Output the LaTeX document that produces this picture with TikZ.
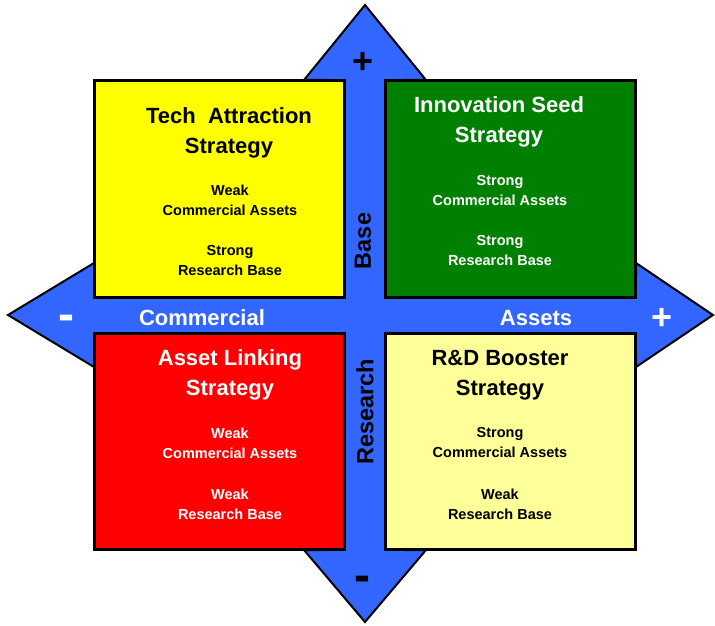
\documentclass[tikz,border=0pt]{standalone}
\usepackage{fontspec}
\setmainfont{Liberation Sans}
\usetikzlibrary{positioning}
\definecolor{AxisBlue}{RGB}{51,102,255}
\definecolor{DeepGreen}{RGB}{0,128,0}
\definecolor{BrightYellow}{RGB}{255,255,0}
\definecolor{BrightRed}{RGB}{255,0,0}
\definecolor{PaleYellow}{RGB}{255,255,153}

\begin{document}
\begin{tikzpicture}[x=1pt,y=1pt,every node/.style={font=\bfseries,inner sep=0pt,align=center}]
\tikzset{quad/.style={draw=black,line width=3pt,outer sep=0pt,minimum width=250pt,minimum height=216pt},
  heading/.style={font=\bfseries\fontsize{22}{30}\selectfont},
  facts/.style={font=\bfseries\fontsize{14.5}{20}\selectfont},
  axislbl/.style={font=\bfseries\fontsize{22}{26}\selectfont,text=white},
  sign/.style={font=\bfseries\fontsize{36}{40}\selectfont}}
\useasboundingbox (0,0) rectangle (715,625);
% four-way arrow behind the quadrants
\draw[fill=AxisBlue,line width=2pt,line join=miter]
  (365,620) -- (426,545) -- (405,545) -- (405,350) -- (636,350) -- (636,362)
  -- (713,310) -- (636,258) -- (636,270) -- (405,270) -- (405,75) -- (426,75)
  -- (365,3) -- (304,75) -- (325,75) -- (325,270) -- (94,270) -- (94,258)
  -- (8,310) -- (94,362) -- (94,350) -- (325,350) -- (325,545) -- (304,545) -- cycle;
\node[quad,fill=BrightYellow] (tech) at (219,436) {};
\node[quad,fill=DeepGreen,right=41pt of tech] (seed) {};
\node[quad,fill=BrightRed,below=36pt of tech] (link) {};
\node[quad,fill=PaleYellow,below=36pt of seed] (boost) {};
% quadrant texts
\node[heading] (techT) at (229,492) {Tech\ \ Attraction\\Strategy};
\node[facts] (techA) at (230,425) {Weak\\Commercial Assets};
\node[facts] (techB) at (230,364) {Strong\\Research Base};
\node[heading,text=white] (seedT) at (499,503) {Innovation Seed\\Strategy};
\node[facts,text=white] (seedA) at (500,434.5) {Strong\\Commercial Assets};
\node[facts,text=white] (seedB) at (500,374) {Strong\\Research Base};
\node[heading,text=white] (linkT) at (230,250) {Asset Linking\\Strategy};
\node[facts,text=white] (linkA) at (230,182) {Weak\\Commercial Assets};
\node[facts,text=white] (linkB) at (230,121) {Weak\\Research Base};
\node[heading] (boostT) at (500,250) {R\&D Booster\\Strategy};
\node[facts] (boostA) at (500,182) {Strong\\Commercial Assets};
\node[facts] (boostB) at (500,121) {Weak\\Research Base};
% axis labels
\node[axislbl] (comm) at (202,307) {Commercial};
\node[axislbl] (asset) at (536,307) {Assets};
\node[axislbl,font=\bfseries\fontsize{23.5}{26}\selectfont,text=black,rotate=90] (base) at (363,384) {Base};
\node[axislbl,font=\bfseries\fontsize{23.5}{26}\selectfont,text=black,rotate=90] (res) at (365,213) {Research};
\node[sign] (up) at (363,562) {+};
\node[sign,font=\bfseries\fontsize{48}{50}\selectfont] (down) at (362,41) {-};
\node[sign,text=white,font=\bfseries\fontsize{48}{50}\selectfont] (lft) at (66,302) {-};
\node[sign,text=white] (rgt) at (662,306) {+};
\end{tikzpicture}
\end{document}
